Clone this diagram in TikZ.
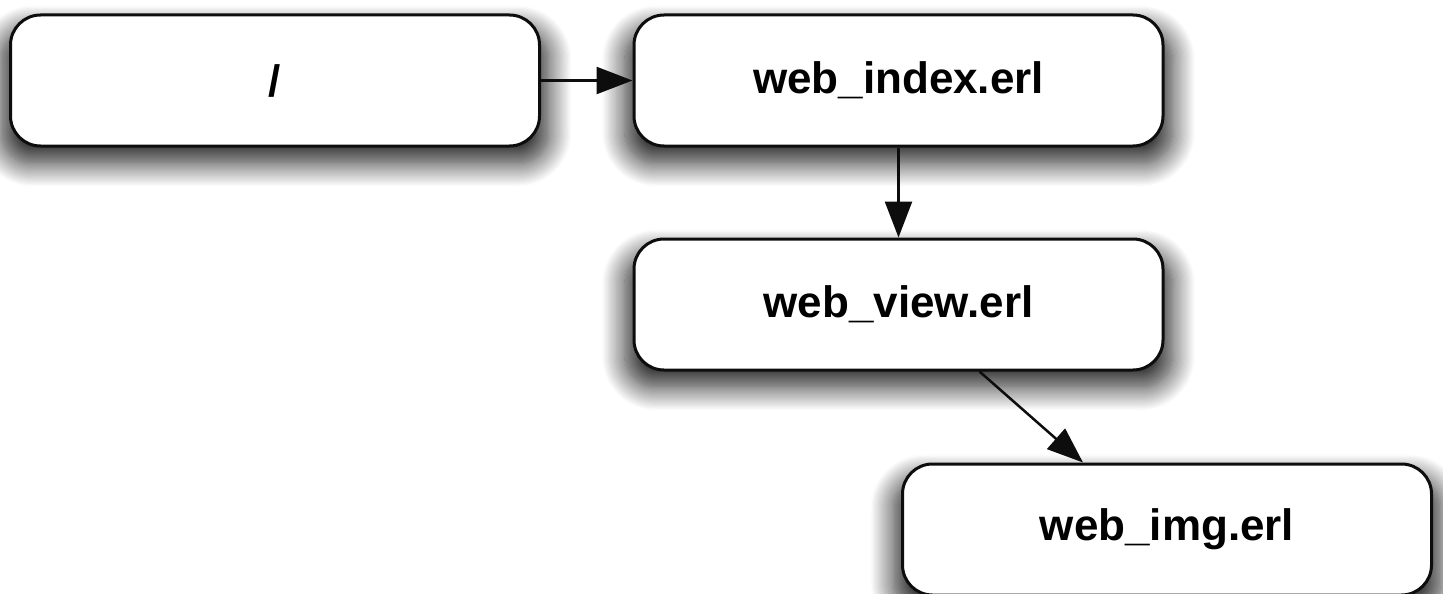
\documentclass[tikz,border=0pt]{standalone}
\usepackage{fontspec}
\setmainfont{Liberation Sans}
\usetikzlibrary{arrows.meta,shadows.blur}

\tikzset{
  modbox/.style={
    draw=black!95, line width=3pt, fill=white, rounded corners=30pt,
    minimum width=529pt, minimum height=131pt, inner sep=0pt,
    font=\fontsize{44}{52}\selectfont\bfseries,
    blur shadow={shadow xshift=0pt, shadow yshift=-15pt,
                 shadow scale=1.035,
                 shadow blur radius=22pt, shadow opacity=85,
                 shadow blur steps=20}
  },
  flow/.style={line width=2.5pt, draw=black!95,
    -{Triangle[length=36pt, width=27pt]}}
}

\begin{document}
\begin{tikzpicture}[x=1pt, y=-1pt]
  \useasboundingbox (0,0) rectangle (1443,594);

  % request handlers
  \node[modbox] (root)  at (275,80.5)   {/};
  \node[modbox] (index) at (898.5,80.5) {web\_index.erl};
  \node[modbox] (view)  at (898.5,304.5) {web\_view.erl};
  \node[modbox] (img)   at (1167,529.5) {web\_img.erl};

  % call chain
  \draw[flow] (root.east) -- (index.west);
  \draw[flow] (index.south) -- (view.north);
  \draw[flow] ([xshift=81pt]view.south) -- ([xshift=-84pt]img.north);
\end{tikzpicture}
\end{document}
